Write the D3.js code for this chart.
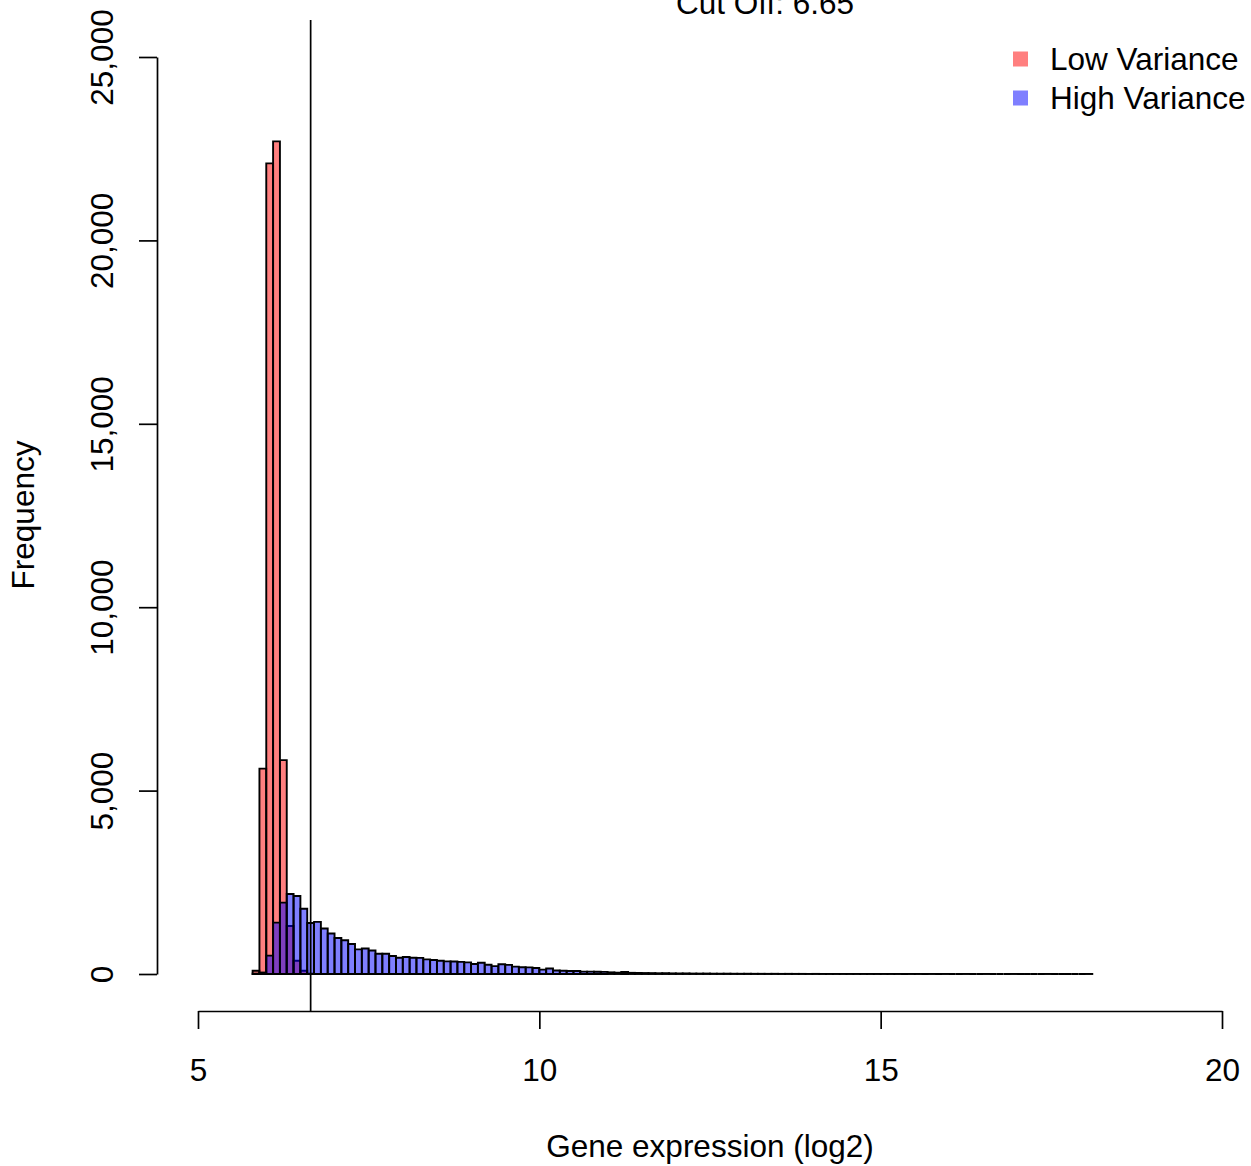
<!DOCTYPE html>
<html>
<head>
<meta charset="utf-8">
<script src="https://cdn.jsdelivr.net/npm/d3@7"></script>
<style>
  html, body { margin: 0; padding: 0; background: #fff; }
  svg { display: block; }
  text { font-family: "Liberation Sans", Arial, Helvetica, sans-serif; fill: #000; }
</style>
</head>
<body>
<svg id="chart" width="1251" height="1166"></svg>
<script>
// Histogram bins: equal-width bins starting at binStart
const binStart = 5.8;
const binWidth = 0.1;

// Counts per bin for genes with low variance
const lowVarianceCounts = [90, 5600, 22100, 22700, 5830, 1310, 360, 90, 10];

// Counts per bin for genes with high variance
const highVarianceCounts = [
  10, 40, 500, 1400, 1945, 2180, 2126, 1780, 1390, 1420,
  1240, 1105, 980, 920, 818, 672, 695, 640, 554, 553,
  490, 445, 463, 445, 440, 400, 381, 363, 345, 340,
  330, 318, 272, 305, 254, 215, 265, 250, 200, 182,
  180, 163, 120, 150, 95, 90, 80, 82, 66, 64,
  62, 58, 45, 36, 55, 32, 28,
  26, 24, 20, 22, 17, 15, 16, 12, 11, 12,
  9, 8, 9, 7, 6, 7, 5, 5, 4, 5,
  3, 4, 3, 3, 2, 3, 2, 2, 2, 1,
  2, 1, 1, 1, 2, 1, 1, 1, 0, 1,
  1, 0, 1, 0, 1, 0, 0, 1, 0, 0,
  1, 0, 0, 0, 1, 0, 0, 0, 0, 1,
  0, 0, 0, 0, 0, 1
];

const cutOff = 6.65;
const xTicks = [5, 10, 15, 20];
const yTicks = [0, 5000, 10000, 15000, 20000, 25000];
const seriesNames = ["Low Variance", "High Variance"];
const seriesColors = ["rgba(255,0,0,0.5)", "rgba(0,0,255,0.5)"];

const titleText = "Cut Off: " + cutOff;
const xLabel = "Gene expression (log2)";
const yLabel = "Frequency";

const svg = d3.select("#chart");
const fontSize = 31.5;
const lineW = 1.7;

const x = d3.scaleLinear().domain([5, 20]).range([198, 1222]);
const y = d3.scaleLinear().domain([0, 25000]).range([974, 57]);

// Bars (drawn as closed paths so empty bins still show as a baseline stroke)
function barPath(i, v) {
  const x0 = x(binStart + i * binWidth);
  const x1 = x(binStart + (i + 1) * binWidth);
  const y0 = y(0), y1 = y(v);
  return `M${x0},${y0}H${x1}V${y1}H${x0}Z`;
}

[lowVarianceCounts, highVarianceCounts].forEach((counts, s) => {
  svg.append("g")
    .selectAll("path")
    .data(counts)
    .join("path")
    .attr("d", (d, i) => barPath(i, d))
    .attr("fill", seriesColors[s])
    .attr("stroke", "#000")
    .attr("stroke-width", 1.9)
    .attr("stroke-linejoin", "miter");
});

// Vertical cut-off line
svg.append("line")
  .attr("x1", x(cutOff)).attr("x2", x(cutOff))
  .attr("y1", 20).attr("y2", 1011)
  .attr("stroke", "#000")
  .attr("stroke-width", lineW);

// X axis
const xAxis = svg.append("g")
  .attr("transform", "translate(0,1011)")
  .call(d3.axisBottom(x).tickValues(xTicks).tickSize(18).tickSizeOuter(0).tickFormat(d3.format("d")));
xAxis.select(".domain").attr("stroke-width", lineW);
xAxis.selectAll(".tick line").attr("stroke-width", lineW);
xAxis.selectAll(".tick text")
  .attr("y", 70).attr("dy", 0)
  .attr("font-size", fontSize)
  .style("font-family", "'Liberation Sans', Arial, sans-serif");

// Y axis with rotated tick labels
const yAxis = svg.append("g")
  .attr("transform", "translate(157,0)")
  .call(d3.axisLeft(y).tickValues(yTicks).tickSize(18).tickSizeOuter(0).tickFormat(d3.format(",")));
yAxis.select(".domain").attr("stroke-width", lineW);
yAxis.selectAll(".tick line").attr("stroke-width", lineW);
yAxis.selectAll(".tick text")
  .attr("x", 0).attr("dy", 0)
  .attr("text-anchor", "middle")
  .attr("transform", "translate(-44,0) rotate(-90)")
  .attr("font-size", fontSize)
  .style("font-family", "'Liberation Sans', Arial, sans-serif");

// Title
svg.append("text")
  .attr("x", 765).attr("y", 14)
  .attr("text-anchor", "middle")
  .attr("font-size", fontSize)
  .text(titleText);

// Axis titles
svg.append("text")
  .attr("x", 710).attr("y", 1157)
  .attr("text-anchor", "middle")
  .attr("font-size", fontSize)
  .text(xLabel);

svg.append("text")
  .attr("transform", "translate(34,515) rotate(-90)")
  .attr("text-anchor", "middle")
  .attr("font-size", fontSize)
  .text(yLabel);

// Legend
const legend = svg.append("g");
seriesNames.forEach((name, i) => {
  const cy = 59 + i * 39;
  legend.append("rect")
    .attr("x", 1013).attr("y", cy - 7.5)
    .attr("width", 15).attr("height", 15)
    .attr("fill", seriesColors[i]);
  legend.append("text")
    .attr("x", 1050).attr("y", cy + 11)
    .attr("font-size", fontSize)
    .text(name);
});
</script>
</body>
</html>
